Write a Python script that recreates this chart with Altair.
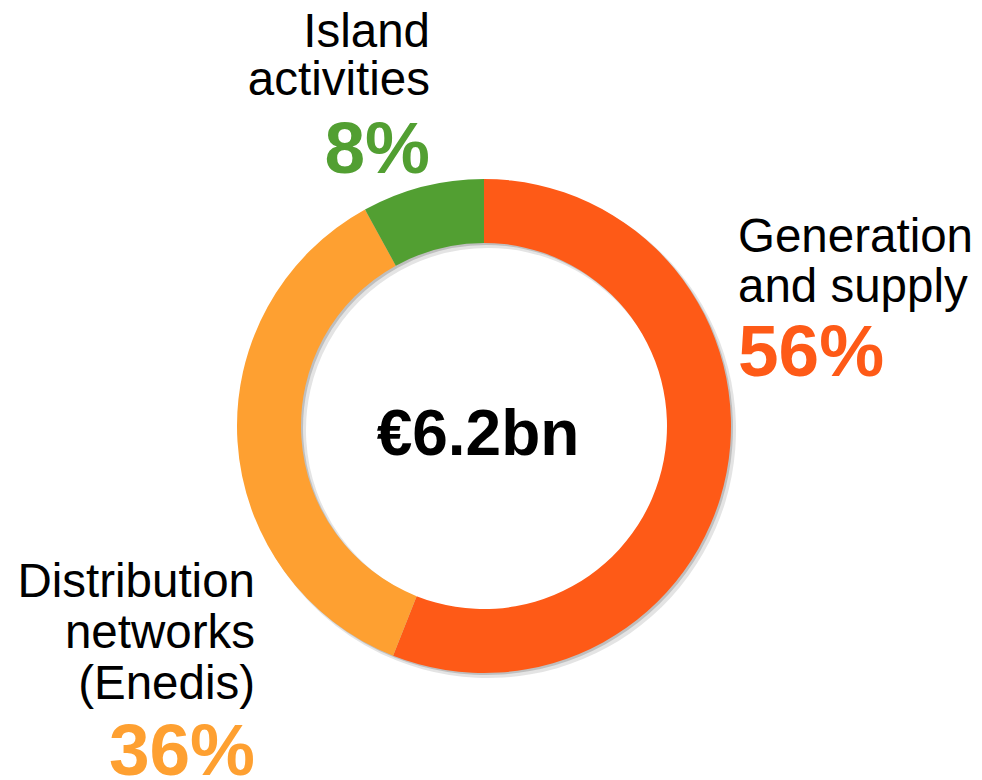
import altair as alt
import pandas as pd

# ---- data ----
segments = ["Generation and supply", "Distribution networks (Enedis)", "Island activities"]
shares = [56, 36, 8]
colors = ["#FE5A17", "#FEA031", "#529F32"]
label_lines = [["Generation", "and supply"], ["Distribution", "networks", "(Enedis)"], ["Island", "activities"]]
pct_labels = ["56%", "36%", "8%"]
center_label = "€6.2bn"

W, H = 966, 772
CX, CY = 476, 418
R_OUT, R_IN = 247, 183
FONT = "Liberation Sans"

df = pd.DataFrame({"segment": segments, "share": shares, "idx": list(range(len(segments)))})

color_scale = alt.Scale(domain=segments, range=colors)

base = alt.Chart(df)

shadow1 = base.mark_arc(radius=R_OUT + 1, radius2=R_IN - 1, color="#7a7a7a", opacity=0.2).encode(
    theta=alt.Theta("share:Q", stack=True),
    order=alt.Order("idx:Q"),
    x=alt.value(CX + 4), y=alt.value(CY + 4),
)
shadow2 = base.mark_arc(radius=R_OUT, radius2=R_IN, color="#7a7a7a", opacity=0.35).encode(
    theta=alt.Theta("share:Q", stack=True),
    order=alt.Order("idx:Q"),
    x=alt.value(CX + 2), y=alt.value(CY + 2),
)
ring = base.mark_arc(radius=R_OUT, radius2=R_IN, stroke=None).encode(
    theta=alt.Theta("share:Q", stack=True),
    order=alt.Order("idx:Q"),
    color=alt.Color("segment:N", scale=color_scale, legend=None),
    x=alt.value(CX), y=alt.value(CY),
)

layers = [shadow1, shadow2, ring]

# label anchor settings per segment: (x, line baselines, percent baseline, align)
anchors = [
    (730, [244, 294], 368, "left"),
    (247, [589, 640, 691], 767, "right"),
    (422, [39, 87], 165, "right"),
]
for lines, pct, col, (ax, ys, py, al) in zip(label_lines, pct_labels, colors, anchors):
    for ln, ly in zip(lines, ys):
        layers.append(
            alt.Chart(pd.DataFrame({"t": [ln]})).mark_text(
                font=FONT, fontSize=47.5, align=al, baseline="alphabetic", color="#000000"
            ).encode(text="t:N", x=alt.value(ax), y=alt.value(ly))
        )
    layers.append(
        alt.Chart(pd.DataFrame({"t": [pct]})).mark_text(
            font=FONT, fontSize=73, fontWeight="bold", align=al, baseline="alphabetic", color=col
        ).encode(text="t:N", x=alt.value(ax), y=alt.value(py))
    )

layers.append(
    alt.Chart(pd.DataFrame({"t": [center_label]})).mark_text(
        font=FONT, fontSize=64, fontWeight="bold", align="center", baseline="alphabetic", color="#000000"
    ).encode(text="t:N", x=alt.value(470), y=alt.value(447))
)

chart = alt.layer(*layers).properties(
    width=W, height=H, padding=0, autosize=alt.AutoSizeParams(type="none")
).configure_view(stroke=None)

chart.save("out.html", embed_options={"renderer": "svg", "actions": False})
